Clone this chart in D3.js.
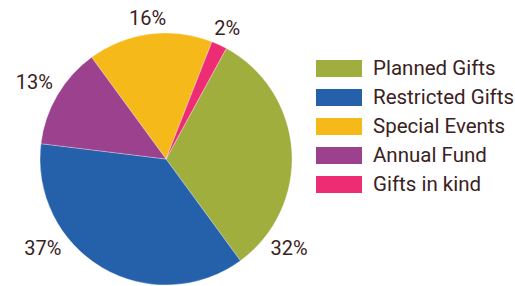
<!DOCTYPE html>
<html>
<head>
<meta charset="utf-8">
<script src="https://cdn.jsdelivr.net/npm/d3@7"></script>
<style>
  body { margin: 0; background: #fff; }
  svg text { font-family: Roboto, "Noto Sans", sans-serif; fill: #3a2222; }
</style>
</head>
<body>
<svg id="chart" width="515" height="286"></svg>
<script>
// legend order
var categories = ["Planned Gifts", "Restricted Gifts", "Special Events", "Annual Fund", "Gifts in kind"];
var shares = [32, 37, 16, 13, 2];
var colors = ["#9fae3d", "#2560ab", "#f6b91a", "#9c418d", "#ee2c74"];
// order of slices going clockwise round the pie
var pieOrder = ["Planned Gifts", "Restricted Gifts", "Annual Fund", "Special Events", "Gifts in kind"];

var data = categories.map(function(c, i){ return {name: c, value: shares[i], color: colors[i]}; });

var svg = d3.select("#chart");
var cx = 166, cy = 159, r = 126;
var start = 28.6 * Math.PI / 180;

var pie = d3.pie()
  .value(function(d){ return d.value; })
  .sort(function(a, b){ return pieOrder.indexOf(a.name) - pieOrder.indexOf(b.name); })
  .startAngle(start)
  .endAngle(start + 2 * Math.PI);

var arc = d3.arc().innerRadius(0).outerRadius(r);

var g = svg.append("g").attr("transform", "translate(" + cx + "," + cy + ")");
var arcs = pie(data);

g.selectAll("path")
  .data(arcs)
  .enter().append("path")
    .attr("d", arc)
    .attr("fill", function(d){ return d.data.color; })
    .attr("stroke", "#fff")
    .attr("stroke-width", 0.3);

// the two big slices have their labels set down near the bottom
var labelAngle = {"Planned Gifts": 126, "Restricted Gifts": 234};

g.selectAll("text.pct")
  .data(arcs)
  .enter().append("text")
    .attr("class", "pct")
    .attr("text-anchor", "middle")
    .attr("dominant-baseline", "central")
    .style("font-size", "20px")
    .text(function(d){ return d.data.value + "%"; })
    .attr("x", function(d){ return pos(d, this)[0]; })
    .attr("y", function(d){ return pos(d, this)[1]; });

function pos(d, node){
  var deg = labelAngle[d.data.name];
  var a = deg != null ? deg * Math.PI / 180 : (d.startAngle + d.endAngle) / 2;
  var w = node.getComputedTextLength();
  var dist = r + 7 + Math.abs(Math.sin(a)) * w / 2 + Math.abs(Math.cos(a)) * 7;
  return [Math.sin(a) * dist, -Math.cos(a) * dist];
}

var legend = svg.append("g").attr("transform", "translate(316,60)");
var item = legend.selectAll("g")
  .data(data)
  .enter().append("g")
    .attr("transform", function(d, i){ return "translate(0," + (i * 29) + ")"; });

item.append("rect")
  .attr("width", 46)
  .attr("height", 17)
  .attr("fill", function(d){ return d.color; });

item.append("text")
  .attr("x", 57)
  .attr("y", 15)
  .style("font-size", "20.5px")
  .text(function(d){ return d.name; });
</script>
</body>
</html>
